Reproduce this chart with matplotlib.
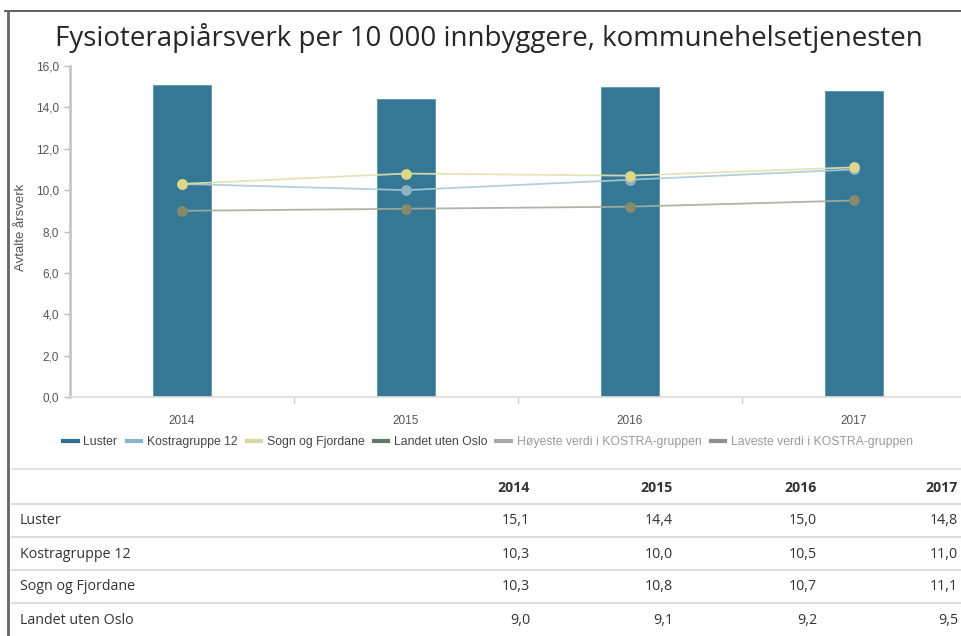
import matplotlib
matplotlib.use("Agg")
import matplotlib.pyplot as plt
from matplotlib.lines import Line2D
import numpy as np

years = ["2014", "2015", "2016", "2017"]
luster = [15.1, 14.4, 15.0, 14.8]
kostra = [10.3, 10.0, 10.5, 11.0]
sogn = [10.3, 10.8, 10.7, 11.1]
landet = [9.0, 9.1, 9.2, 9.5]
series_names = ["Luster", "Kostragruppe 12", "Sogn og Fjordane", "Landet uten Oslo"]
legend_names = series_names + ["Høyeste verdi i KOSTRA-gruppen", "Laveste verdi i KOSTRA-gruppen"]
yticks = [0, 2, 4, 6, 8, 10, 12, 14, 16]

W, H = 961, 636
fig = plt.figure(figsize=(W / 100, H / 100), dpi=100)

def fx(x):
    return x / W

def fy(y):
    return 1 - y / H

# axes: y-axis at x=70, 0 at y=397, 16 at y=66, 4 categories of 224 px
ax = fig.add_axes([fx(70), fy(397), 896 / W, 331 / H])
x = np.arange(len(years))
ax.bar(x, luster, width=0.255, color="#347896", edgecolor="#5f94ab", linewidth=0.6, zorder=2)
ax.plot(x, landet, color="#a6ad9c", lw=1.3, zorder=3, alpha=0.9)
ax.plot(x, kostra, color="#adc9d7", lw=1.3, zorder=3, alpha=0.9)
ax.plot(x, sogn, color="#e4e1ad", lw=1.3, zorder=3, alpha=0.9)
ax.scatter(x, landet, s=60, color="#868a6a", zorder=4, linewidths=0)
ax.scatter(x, kostra, s=60, color="#8db2c4", zorder=4, linewidths=0)
ax.scatter(x, sogn, s=60, color="#ddd787", zorder=5, linewidths=0)

ax.set_xlim(-0.5, 3.5)
ax.set_ylim(0, 16)
ax.set_yticks(yticks)
ax.set_yticklabels([f"{v:.1f}".replace(".", ",") for v in yticks],
                   fontsize=8.5, color="#555555", family="Liberation Sans")
ax.set_xticks(x)
ax.set_xticklabels(years, fontsize=8.5, color="#555555", family="Liberation Sans")
ax.set_xticks(x[:-1] + 0.5, minor=True)
ax.tick_params(axis="x", which="major", length=0, pad=13)
ax.tick_params(axis="x", which="minor", length=4, color="#cccccc", width=1)
ax.tick_params(axis="y", length=4, color="#bbbbbb", width=1, pad=4)
for s in ["top", "right"]:
    ax.spines[s].set_visible(False)
ax.spines["left"].set_color("#c8c8c8")
ax.spines["left"].set_linewidth(2)
ax.spines["bottom"].set_color("#dddddd")
ax.spines["bottom"].set_linewidth(1.2)

fig.text(fx(21), fy(227), "Avtalte årsverk", rotation=90, ha="center", va="center",
         fontsize=9.5, color="#555555", family="Liberation Sans")

# title
fig.text(fx(489), fy(38), "Fysioterapiårsverk per 10 000 innbyggere, kommunehelsetjenesten",
         ha="center", va="center", fontsize=20, color="#262626", family="Open Sans")

# legend
leg_colors = ["#2d6f8e", "#86b6ca", "#d9d8a2", "#5d7a62", "#a9a9a9", "#8e8e8e"]
handles = [Line2D([0], [0], color=c, lw=3) for c in leg_colors]
leg = fig.legend(handles, legend_names, ncol=6, loc="center", bbox_to_anchor=(fx(488), fy(442)),
                 frameon=False, handlelength=1.2, handletextpad=0.45, columnspacing=0.75,
                 prop={"family": "Liberation Sans", "size": 8.8})
for t, c in zip(leg.get_texts(), ["#444444"] * 4 + ["#9a9a9a"] * 2):
    t.set_color(c)

# frame
fig.add_artist(Line2D([fx(5), fx(961)], [fy(11), fy(11)], color="#555555", lw=1.3))
fig.add_artist(Line2D([fx(8), fx(8)], [fy(11), fy(636)], color="#666666", lw=2))

# table
col_x = [530, 673, 817, 958]
line_y = [469, 504, 537, 570, 603]
for i, ly in enumerate(line_y):
    fig.add_artist(Line2D([fx(12), fx(961)], [fy(ly), fy(ly)], color="#dcdcdc", lw=1.5 if i else 1.2))
for cx, yr in zip(col_x, years):
    fig.text(fx(cx), fy(488), yr, ha="right", va="center", fontsize=10.2, fontweight="bold",
             color="#333333", family="Open Sans")
row_y = [521, 554, 587, 620]
for ry, name, vals in zip(row_y, series_names, [luster, kostra, sogn, landet]):
    fig.text(fx(20), fy(ry), name, ha="left", va="center", fontsize=10.3, color="#333333", family="Open Sans")
    for cx, v in zip(col_x, vals):
        fig.text(fx(cx), fy(ry), f"{v:.1f}".replace(".", ","), ha="right", va="center",
                 fontsize=10.3, color="#333333", family="Open Sans")

fig.savefig("out.png", dpi=100)
